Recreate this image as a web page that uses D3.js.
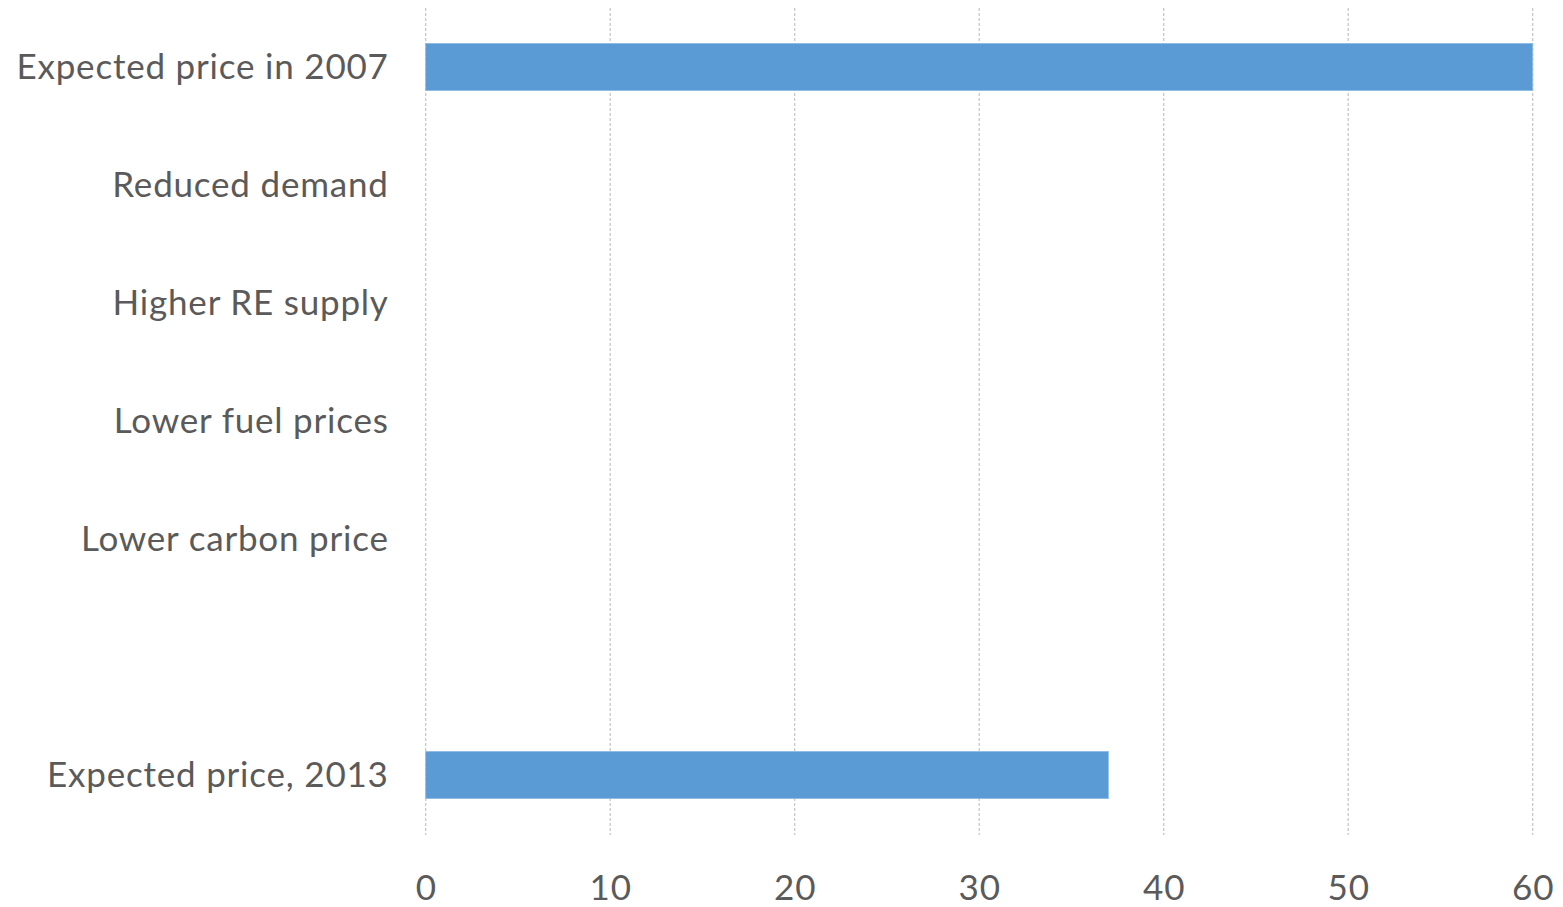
<!DOCTYPE html>
<html>
<head>
<meta charset="utf-8">
<script src="https://cdn.jsdelivr.net/npm/d3@7"></script>
<style>
  html, body { margin: 0; padding: 0; background: #fff; }
  svg { display: block; }
  text { font-family: Lato, "Open Sans", sans-serif; fill: #5a5a5a; }
</style>
</head>
<body>
<svg id="chart" width="1563" height="907"></svg>
<script>
// Price decomposition categories (one blank spacer row before the final bar)
const categories = [
  "Expected price in 2007",
  "Reduced demand",
  "Higher RE supply",
  "Lower fuel prices",
  "Lower carbon price",
  " ",
  "Expected price, 2013"
];
// Bar values; steps without a drawn bar are null
const values = [60, null, null, null, null, null, 37];
const xTicks = [0, 10, 20, 30, 40, 50, 60];

const svg = d3.select("#chart");
const plot = { left: 425.7, right: 1532.7, top: 8, bottom: 834 };
const labelFont = { size: 35, spacing: 0.8 };

const x = d3.scaleLinear().domain([0, 60]).range([plot.left, plot.right]);
const y = d3.scaleBand().domain(categories).range([plot.top, plot.bottom])
  .paddingInner(0.6).paddingOuter(0.3);

// Vertical gridlines
svg.append("g").selectAll("line").data(xTicks).join("line")
  .attr("x1", d => x(d)).attr("x2", d => x(d))
  .attr("y1", plot.top).attr("y2", plot.bottom + 1)
  .attr("stroke", "#c4c4c4").attr("stroke-width", 1.2)
  .attr("stroke-dasharray", "3,2");

// Bars
const rows = categories.map((c, i) => ({ c, v: values[i] })).filter(d => d.v != null);
svg.append("g").selectAll("rect").data(rows).join("rect")
  .attr("x", x(0))
  .attr("y", d => y(d.c))
  .attr("width", d => x(d.v) - x(0))
  .attr("height", y.bandwidth())
  .attr("fill", "#5b9bd5")
  .attr("stroke", "#8fbbe4").attr("stroke-width", 0.8);

function styleLabels(g) {
  g.select(".domain").remove();
  g.selectAll("text")
    .attr("font-size", labelFont.size)
    .style("font-family", "Lato, 'Open Sans', sans-serif")
    .style("letter-spacing", labelFont.spacing + "px")
    .attr("fill", "#5a5a5a");
}

// Category axis (labels only)
svg.append("g")
  .attr("transform", `translate(${plot.left},0)`)
  .call(d3.axisLeft(y).tickSize(0).tickPadding(37))
  .call(styleLabels)
  .selectAll("text").attr("dy", "0.35em");

// Value axis (labels only)
svg.append("g")
  .attr("transform", `translate(0,${plot.bottom})`)
  .call(d3.axisBottom(x).tickValues(xTicks).tickSize(0).tickPadding(41))
  .call(styleLabels);
</script>
</body>
</html>
